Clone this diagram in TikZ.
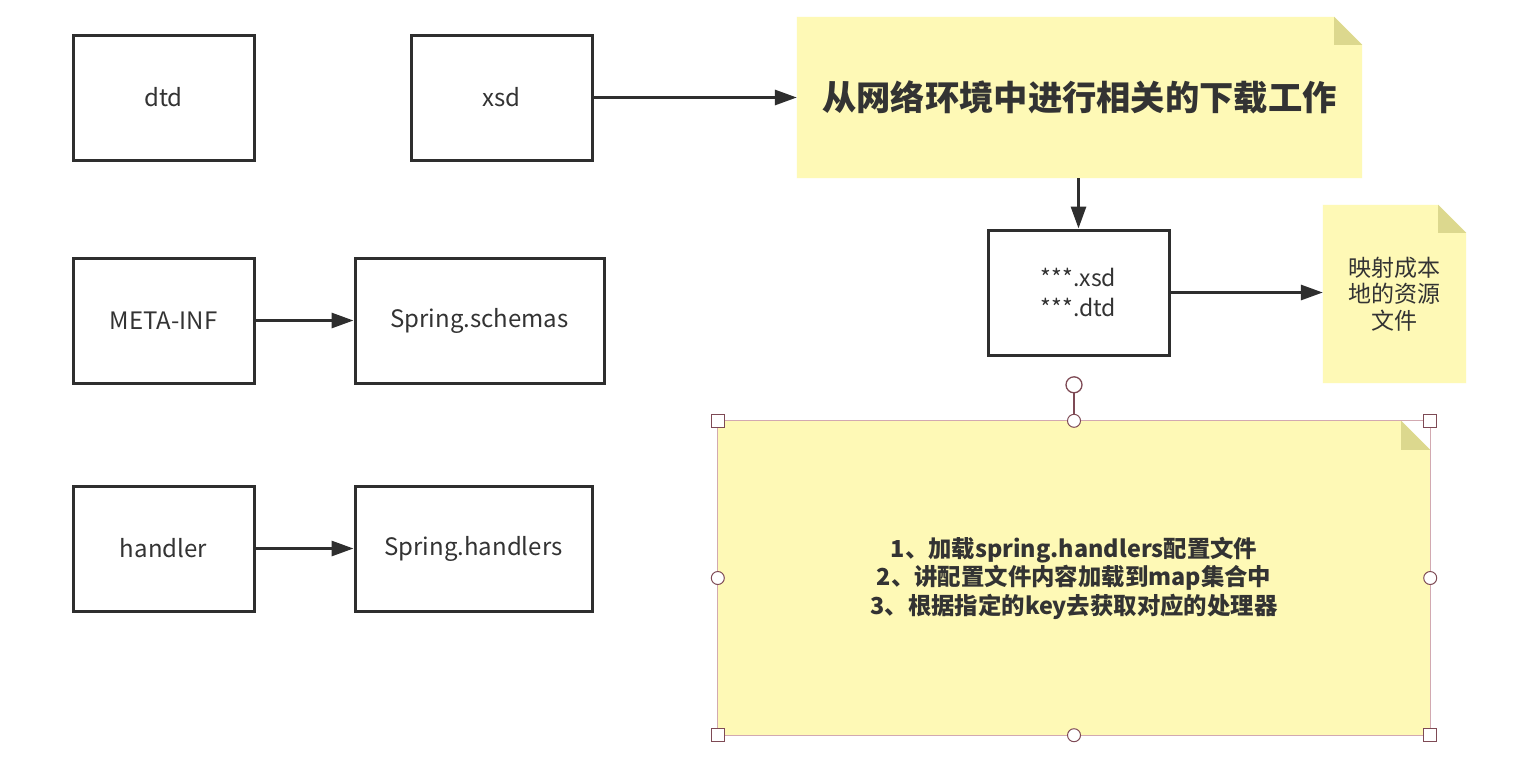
\documentclass[tikz,border=0pt]{standalone}
\usepackage{fontspec}
\setmainfont{Noto Sans CJK SC}
\usetikzlibrary{arrows.meta,calc}
\pgfdeclarelayer{bg}
\pgfsetlayers{bg,main}
\definecolor{boxline}{HTML}{2E2E2E}
\definecolor{txt}{HTML}{333333}
\definecolor{notey}{HTML}{FEF9B6}
\definecolor{notefold}{HTML}{DCD88E}
\definecolor{selline}{HTML}{D2A9B1}
\definecolor{handline}{HTML}{7E4A55}
\newcommand\mynotebg[2]{%
  \begin{pgfonlayer}{bg}
    \fill[notey] (#1.north west) -- ([xshift=-#2]#1.north east) -- ([yshift=-#2]#1.north east) -- (#1.south east) -- (#1.south west) -- cycle;
    \fill[notefold] ([xshift=-#2]#1.north east) -- ([xshift=-#2,yshift=-#2]#1.north east) -- ([yshift=-#2]#1.north east) -- cycle;
  \end{pgfonlayer}}
\begin{document}
\begin{tikzpicture}[x=1pt,y=-1pt,
  stepbox/.style={draw=boxline,line width=3pt,fill=white,inner sep=0pt,
    minimum width=181pt,minimum height=125pt,text=txt,font=\fontsize{24}{30}\selectfont,align=center},
  notearea/.style={inner sep=0pt,align=center,text=txt},
  arr/.style={draw=boxline,line width=3pt,-{Triangle[length=22pt,width=15pt]}},
  handsq/.style={draw=handline,fill=white,line width=1pt,minimum size=13pt,inner sep=0pt},
  handci/.style={draw=handline,fill=white,line width=1pt,circle,minimum size=13pt,inner sep=0pt},
  handrot/.style={draw=handline,fill=white,line width=1.3pt,circle,minimum size=16pt,inner sep=0pt}]
\useasboundingbox (0,0) rectangle (1530,780);
\begin{pgfonlayer}{bg}
  \fill[white] (0,0) rectangle (1530,780);
\end{pgfonlayer}

% left column
\node[stepbox] (dtd) at (163.5,97.5) {dtd};
\node[stepbox] (xsd) at (501.5,97.5) {xsd};
\node[stepbox] (meta) at (163.5,320.5) {META-INF};
\node[stepbox,minimum width=249pt] (schemas) at (479.5,320.5) {Spring.schemas};
\node[stepbox] (handler) at (163.5,548.5) {handler};
\node[stepbox,minimum width=237pt] (handlers) at (473.5,548.5) {Spring.handlers};

% top note
\node[notearea,minimum width=565pt,minimum height=161pt,
  font=\fontsize{34.3}{40}\selectfont\bfseries] (dl) at (1079.5,97.5) {从网络环境中进行相关的下载工作};
\mynotebg{dl}{28pt}

% local file box
\node[stepbox,font=\fontsize{23}{30}\selectfont] (files) at (1078.5,292.5) {***.xsd\\***.dtd};

% small note
\node[notearea,minimum width=143pt,minimum height=178pt,
  font=\fontsize{23}{26.5}\selectfont] (local) at (1394.5,294) {映射成本\\地的资源\\文件};
\mynotebg{local}{28pt}

% big note
\node[notearea,minimum width=712pt,minimum height=314pt,
  font=\fontsize{23.4}{28.5}\selectfont\bfseries] (big) at (1074,578)
  {1、加载spring.handlers配置文件\\2、讲配置文件内容加载到map集合中\\3、根据指定的key去获取对应的处理器};
\mynotebg{big}{29pt}
\draw[selline,line width=1pt] (big.north west) rectangle (big.south east);

% connectors
\draw[arr] (xsd.east) -- (dl.west |- xsd.east);
\draw[arr] (dl.south -| files.north) -- (files.north);
\draw[arr] (files.east) -- (local.west |- files.east);
\draw[arr] (meta.east) -- (schemas.west);
\draw[arr] (handler.east) -- (handlers.west);

% selection handles
\node[handrot] (hrot) at ($(big.north)+(0,-36)$) {};
\draw[handline,line width=1.3pt] (hrot.south) -- (big.north);
\node[handsq] (hnw) at (big.north west) {};
\node[handsq] (hne) at (big.north east) {};
\node[handsq] (hsw) at (big.south west) {};
\node[handsq] (hse) at (big.south east) {};
\node[handci] (hn) at (big.north) {};
\node[handci] (hs) at (big.south) {};
\node[handci] (hw) at (big.west) {};
\node[handci] (he) at (big.east) {};
\end{tikzpicture}
\end{document}
